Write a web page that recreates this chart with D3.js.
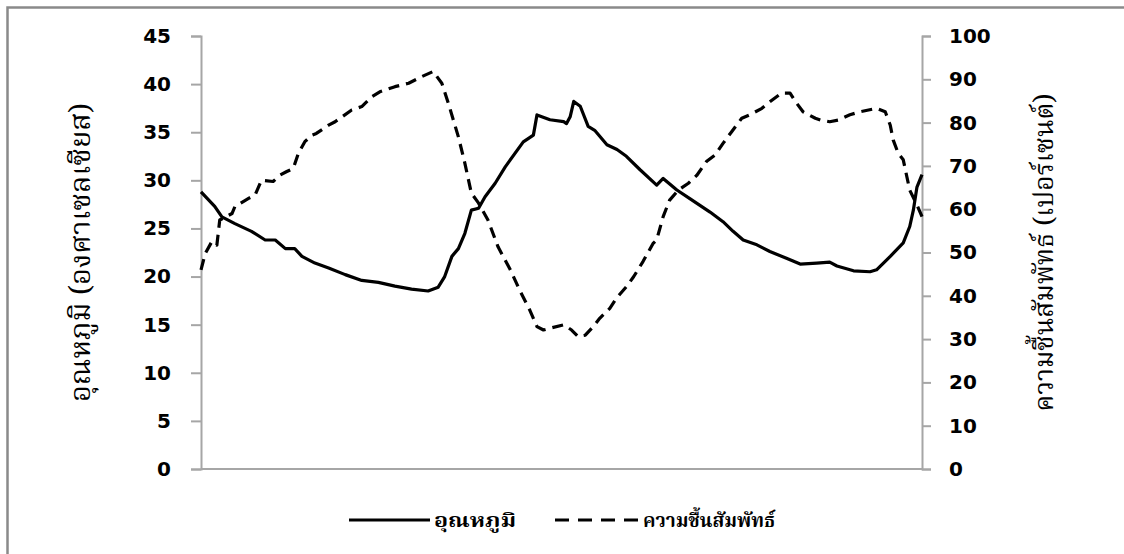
<!DOCTYPE html>
<html><head><meta charset="utf-8">
<script src="https://cdn.jsdelivr.net/npm/d3@7"></script>
<style>
html,body{margin:0;padding:0;background:#fff;}
svg{display:block;}
</style></head>
<body>
<svg id="chart" width="1124" height="554"></svg>
<script>
const tempTime = [0,1.9,2.9,4.7,7.0,8.9,10.3,11.7,13.0,14.0,15.8,17.7,20.0,22.3,24.6,26.9,29.2,31.5,32.9,33.8,34.8,35.7,36.6,37.5,38.5,39.4,40.8,42.2,44.7,46.1,46.6,48.4,50.3,50.7,51.2,51.7,52.6,53.7,54.6,56.3,57.7,59.0,60.9,63.2,64.1,66.0,67.8,69.2,70.6,72.4,73.8,75.2,77.1,78.9,81.2,83.1,85.4,87.2,88.2,90.5,92.8,93.7,95.6,97.4,98.3,98.8,99.3,100];
const tempValues = [28.8,27.3,26.2,25.5,24.7,23.8,23.8,22.9,22.9,22.1,21.4,20.9,20.2,19.6,19.4,19.0,18.7,18.5,18.9,20.0,22.1,22.9,24.5,26.9,27.1,28.3,29.7,31.4,34.0,34.7,36.8,36.3,36.1,35.9,36.6,38.2,37.7,35.6,35.2,33.7,33.2,32.5,31.1,29.5,30.2,29.0,28.1,27.4,26.7,25.7,24.7,23.8,23.3,22.6,21.9,21.3,21.4,21.5,21.1,20.6,20.5,20.7,22.1,23.5,25.2,26.9,29.3,30.6];

const humTime = [0,0.6,1.5,2.2,2.6,4.3,4.7,6.6,7.5,8.4,10.0,11.0,11.9,12.8,13.5,14.4,15.4,16.0,17.7,18.6,20.9,22.3,23.7,24.8,26.9,28.8,30.6,32.2,33.4,34.3,35.7,36.6,37.5,38.5,39.8,41.2,42.9,44.2,45.6,46.6,47.5,48.4,50.3,51.4,52.3,53.3,54.4,55.3,56.7,57.6,59.0,60.0,61.3,62.7,63.2,64.1,65.0,66.2,67.6,68.8,70.1,71.3,72.4,73.6,75.0,76.1,77.8,78.9,80.5,81.7,82.6,83.5,85.2,85.9,87.2,88.4,90.0,91.4,93.7,94.9,95.6,96.0,96.7,97.4,97.9,98.3,99.3,100];
const humValues = [46.0,49.8,52.5,51.7,57.5,59.0,60.6,62.5,63.3,66.7,66.4,67.9,68.7,69.4,72.9,75.6,77.1,77.5,79.4,80.2,82.9,83.7,86.0,87.1,88.3,89.1,90.6,91.8,89.1,84.5,76.7,70.6,63.7,61.4,57.5,51.3,46.0,41.3,36.7,32.9,32.1,32.5,33.3,32.1,30.6,30.9,32.9,34.8,37.1,39.4,42.1,44.4,47.9,52.1,52.9,58.3,62.1,64.4,66.0,67.9,71.0,72.5,75.2,77.9,81.0,81.8,83.3,84.8,86.8,86.8,84.5,82.5,81.0,80.6,80.2,80.6,81.8,82.5,83.3,82.5,79.4,76.0,72.9,71.4,67.5,64.4,61.0,58.3];

const leftTicks = [0,5,10,15,20,25,30,35,40,45];
const rightTicks = [0,10,20,30,40,50,60,70,80,90,100];
const leftTitle = "อุณหภูมิ (องศาเซลเซียส)";
const rightTitle = "ความชื้นสัมพัทธ์ (เปอร์เซนต์)";
const seriesNames = ["อุณหภูมิ", "ความชื้นสัมพัทธ์"];

// ---- layout ----
const svg = d3.select("#chart");
const plot = {left: 201, right: 922, top: 36, bottom: 469};
const axisColor = "#a6a6a6";
const tickFont = "'DejaVu Sans', Verdana, sans-serif";
const thaiFont = "'Noto Serif Thai','Noto Sans Thai','Noto Sans', sans-serif";

// outer frame (extends past the bottom/right edges)
svg.append("rect").attr("x", 7.5).attr("y", 7.5).attr("width", 1140).attr("height", 580)
  .attr("fill", "none").attr("stroke", "#8a8a8a").attr("stroke-width", 2.5);

const x = d3.scaleLinear().domain([0, 100]).range([plot.left, plot.right]);
const yL = d3.scaleLinear().domain([0, 45]).range([plot.bottom, plot.top]);
const yR = d3.scaleLinear().domain([0, 100]).range([plot.bottom, plot.top]);

// x axis baseline
svg.append("line").attr("x1", plot.left).attr("x2", plot.right)
  .attr("y1", plot.bottom).attr("y2", plot.bottom)
  .attr("stroke", axisColor).attr("stroke-width", 2);

function styleAxis(g) {
  g.select(".domain").attr("stroke", axisColor).attr("stroke-width", 2);
  g.selectAll(".tick line").attr("stroke", axisColor).attr("stroke-width", 2);
  g.selectAll(".tick text").attr("fill", "#000").attr("font-family", tickFont)
    .attr("font-weight", "bold").attr("font-size", 20);
}

svg.append("g").attr("transform", `translate(${plot.left},0)`)
  .call(d3.axisLeft(yL).tickValues(leftTicks).tickSize(10).tickSizeOuter(10).tickPadding(20))
  .call(styleAxis);
svg.append("g").attr("transform", `translate(${plot.right},0)`)
  .call(d3.axisRight(yR).tickValues(rightTicks).tickSize(9).tickSizeOuter(9).tickPadding(18))
  .call(styleAxis);

// lines
const tempData = tempTime.map((t, i) => [t, tempValues[i]]);
const humData = humTime.map((t, i) => [t, humValues[i]]);

svg.append("path").datum(humData)
  .attr("fill", "none").attr("stroke", "#000").attr("stroke-width", 3.2)
  .attr("stroke-dasharray", "11,7").attr("stroke-linejoin", "round")
  .attr("d", d3.line().x(d => x(d[0])).y(d => yR(d[1])));

svg.append("path").datum(tempData)
  .attr("fill", "none").attr("stroke", "#000").attr("stroke-width", 3.2)
  .attr("stroke-linejoin", "round")
  .attr("d", d3.line().x(d => x(d[0])).y(d => yL(d[1])));

// axis titles
svg.append("text").attr("transform", `translate(90,${(plot.top+plot.bottom)/2}) rotate(-90)`)
  .attr("text-anchor", "middle").attr("font-family", thaiFont).attr("font-size", 29)
  .attr("fill", "#000").text(leftTitle);
svg.append("text").attr("transform", `translate(1053,${(plot.top+plot.bottom)/2}) rotate(-90)`)
  .attr("text-anchor", "middle").attr("font-family", thaiFont).attr("font-size", 26.5)
  .attr("fill", "#000").text(rightTitle);

// legend
const leg = svg.append("g");
leg.append("line").attr("x1", 349).attr("x2", 430).attr("y1", 520).attr("y2", 520)
  .attr("stroke", "#000").attr("stroke-width", 3);
leg.append("text").attr("x", 434).attr("y", 527).attr("font-family", thaiFont)
  .attr("font-weight", "bold").attr("font-size", 19)
  .attr("textLength", 82).attr("lengthAdjust", "spacingAndGlyphs").text(seriesNames[0]);
leg.append("line").attr("x1", 555).attr("x2", 641).attr("y1", 520).attr("y2", 520)
  .attr("stroke", "#000").attr("stroke-width", 3).attr("stroke-dasharray", "14,9");
leg.append("text").attr("x", 643).attr("y", 527).attr("font-family", thaiFont)
  .attr("font-weight", "bold").attr("font-size", 19)
  .attr("textLength", 132).attr("lengthAdjust", "spacingAndGlyphs").text(seriesNames[1]);
</script>
</body></html>
